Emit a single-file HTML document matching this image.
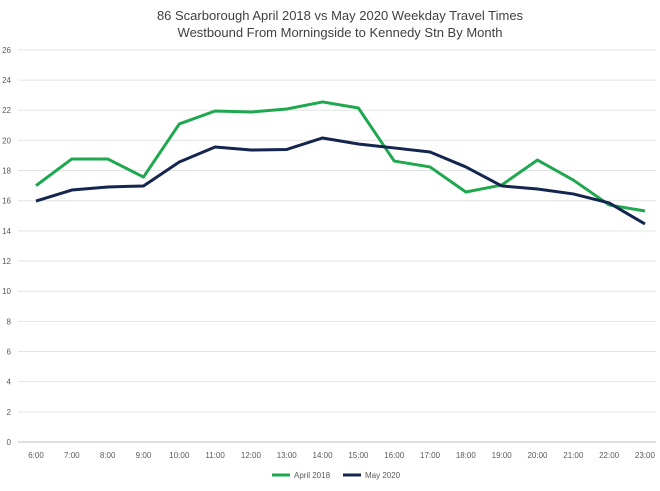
<!DOCTYPE html>
<html><head><meta charset="utf-8"><style>
body{margin:0;background:#fff;}
svg{font-family:"Liberation Sans",Arial,sans-serif;}
</style></head><body>
<svg id="chart" width="660" height="486">
<text x="340" y="20" text-anchor="middle" font-size="13" fill="#404040">86 Scarborough April 2018 vs May 2020 Weekday Travel Times</text>
<text x="340" y="37" text-anchor="middle" font-size="13" fill="#404040">Westbound From Morningside to Kennedy Stn By Month</text>
<g id="grid"></g><g id="xlab"></g><g id="series"></g>
<g>
<line x1="272" y1="475" x2="290" y2="475" stroke="#1fa84f" stroke-width="3"/>
<text x="294" y="478" font-size="8" fill="#595959">April 2018</text>
<line x1="343" y1="475" x2="361" y2="475" stroke="#14254f" stroke-width="3"/>
<text x="365" y="478" font-size="8" fill="#595959">May 2020</text>
</g>
</svg>
<script>
const categories=["6:00","7:00","8:00","9:00","10:00","11:00","12:00","13:00","14:00","15:00","16:00","17:00","18:00","19:00","20:00","21:00","22:00","23:00"];
const april2018=[17.0,18.77,18.77,17.57,21.09,21.95,21.88,22.08,22.55,22.15,18.63,18.24,16.58,17.04,18.7,17.37,15.72,15.32];
const may2020=[15.98,16.71,16.91,16.98,18.57,19.56,19.36,19.4,20.16,19.76,19.5,19.23,18.24,16.98,16.78,16.45,15.85,14.46];
const yTicks=[0,2,4,6,8,10,12,14,16,18,20,22,24,26];
const NS="http://www.w3.org/2000/svg";
const y=v=>442-v*15.08;
const x=i=>36+i*35.82;
const grid=document.getElementById('grid');
yTicks.forEach(t=>{
 const l=document.createElementNS(NS,'line');
 l.setAttribute('x1',18);l.setAttribute('x2',656);l.setAttribute('y1',y(t));l.setAttribute('y2',y(t));
 l.setAttribute('stroke',t===0?'#bfbfbf':'#e3e3e3');l.setAttribute('stroke-width',1);
 
 
 grid.appendChild(l);
 const tx=document.createElementNS(NS,'text');
 tx.setAttribute('x',11);tx.setAttribute('y',y(t)+3);tx.setAttribute('text-anchor','end');
 tx.setAttribute('font-size','8');tx.setAttribute('fill','#595959');tx.textContent=t;
 
 
 grid.appendChild(tx);
});
const xl=document.getElementById('xlab');
categories.forEach((c,i)=>{
 const tx=document.createElementNS(NS,'text');
 tx.setAttribute('x',x(i));tx.setAttribute('y',458);tx.setAttribute('text-anchor','middle');
 tx.setAttribute('font-size','8');tx.setAttribute('fill','#595959');tx.textContent=c;
 
 
 xl.appendChild(tx);
});
const sg=document.getElementById('series');
[[april2018,'#1fa84f','april-2018-line'],[may2020,'#14254f','may-2020-line']].forEach(([d,col,nm])=>{
 const p=document.createElementNS(NS,'polyline');
 p.setAttribute('points',d.map((v,i)=>x(i)+','+y(v)).join(' '));
 p.setAttribute('fill','none');p.setAttribute('stroke',col);p.setAttribute('stroke-width',3);
 p.setAttribute('stroke-linejoin','round');
 
 
 sg.appendChild(p);
});
</script>
</body></html>
